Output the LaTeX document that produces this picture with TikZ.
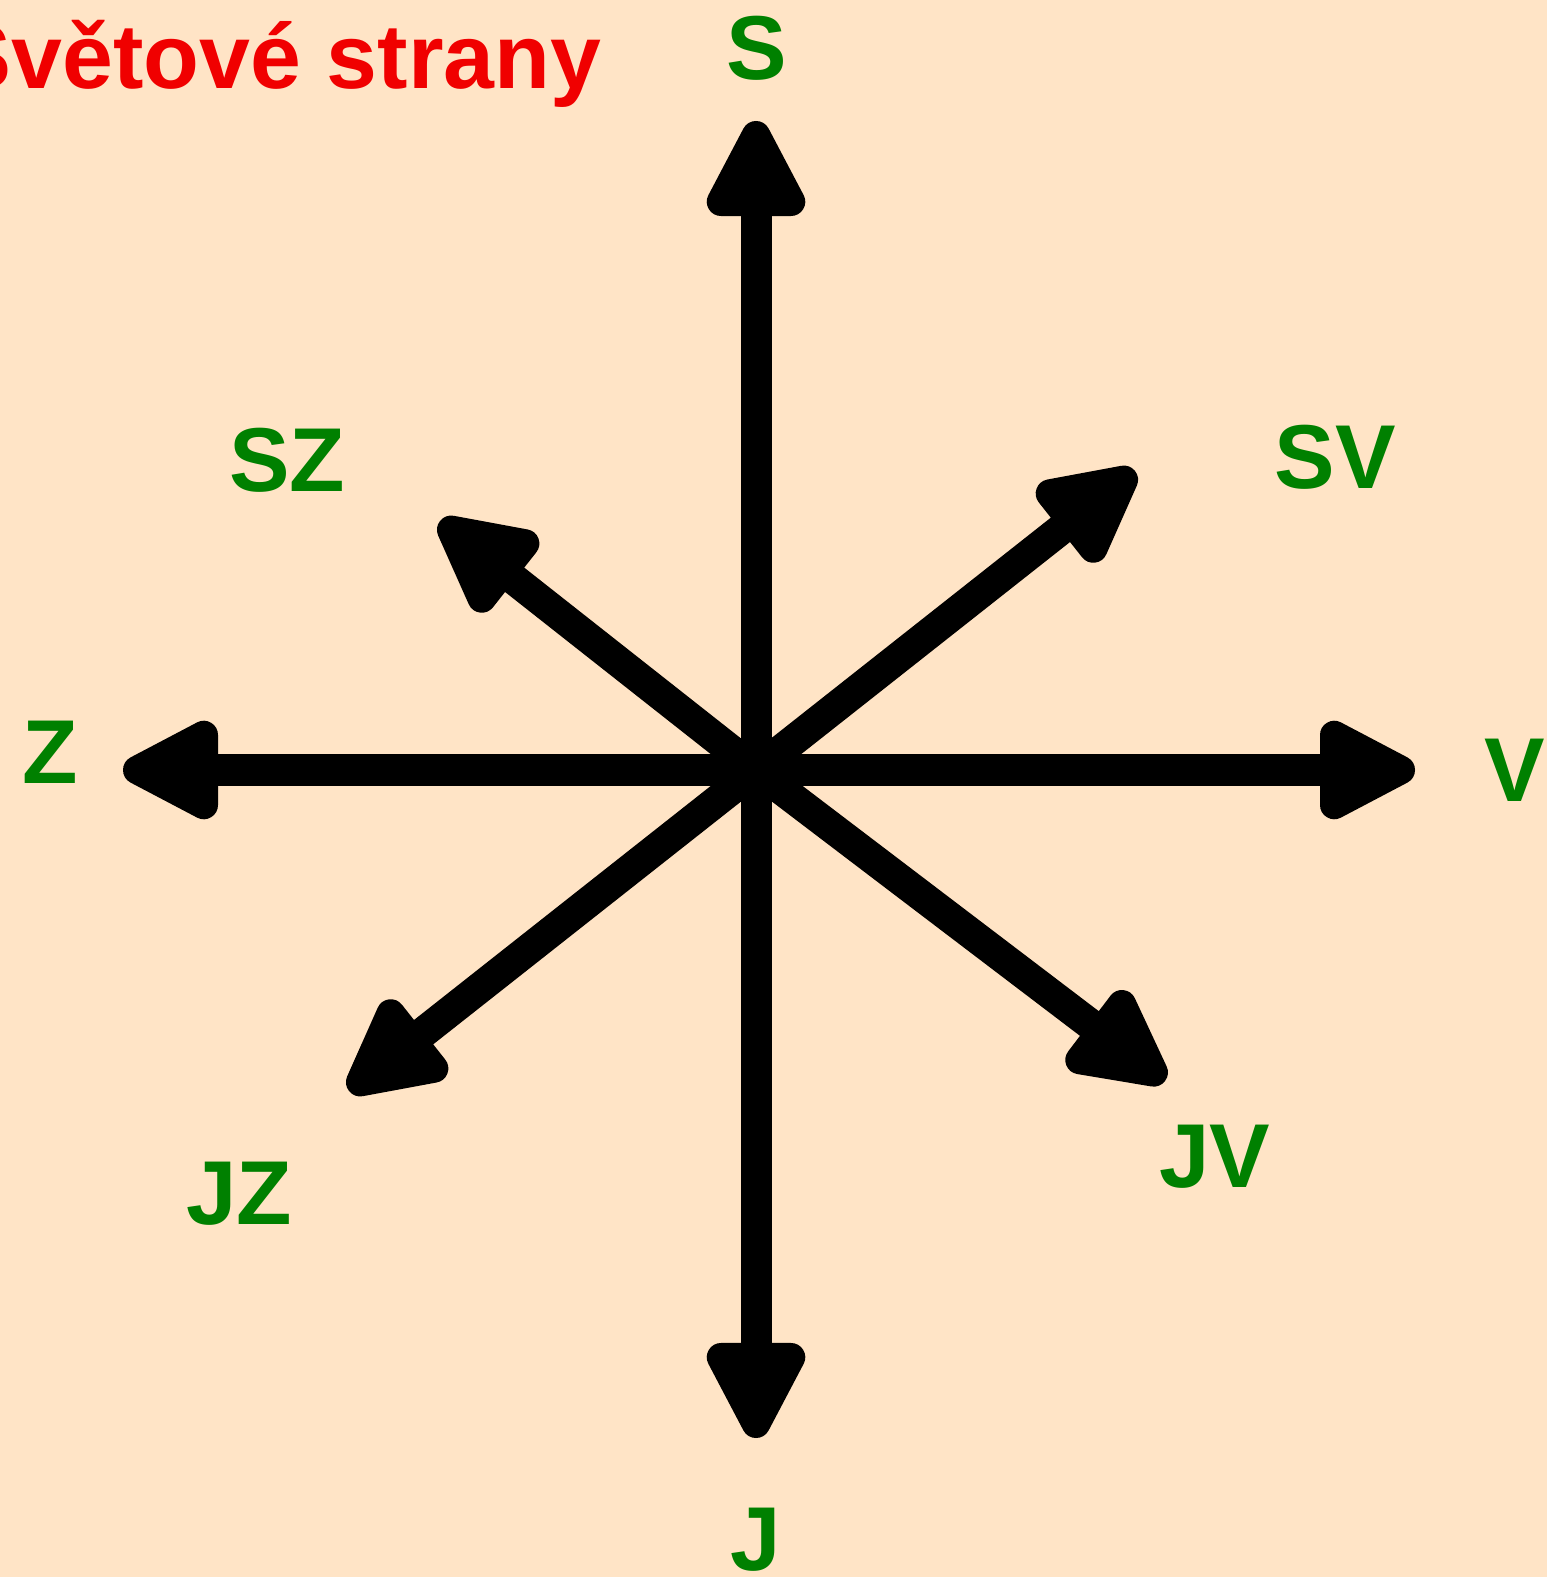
\documentclass[tikz,border=0pt]{standalone}
\usepackage{fontspec}
\setmainfont{Liberation Sans}
\usetikzlibrary{arrows.meta}
\definecolor{bgPeach}{RGB}{255,228,198}
\definecolor{dirGreen}{RGB}{0,128,0}
\definecolor{titleRed}{RGB}{240,0,0}

\begin{document}
\begin{tikzpicture}[x=0.01cm,y=-0.01cm,
  ray/.style={line width=0.31cm,-{Triangle[round,length=1.14cm,width=1.08cm,line width=0.3cm 0 0]}},
  dirlabel/.style={text=dirGreen,font=\bfseries\fontsize{25.8}{30}\selectfont,inner sep=0pt}]
\fill[bgPeach] (0,0) rectangle (1547,1577);
\useasboundingbox (0,0) rectangle (1547,1577);
\node[anchor=base east,inner sep=0pt,text=titleRed,font=\bfseries\fontsize{26}{30}\selectfont] (title) at (602,89) {Světové strany};
% stred ruzice
\coordinate (c) at (756,770);
\coordinate (tS) at (756,121);
\coordinate (tJ) at (756,1438);
\coordinate (tZ) at (123,770);
\coordinate (tV) at (1415,770);
\coordinate (tSV) at (1135,471);
\coordinate (tSZ) at (440,521);
\coordinate (tJZ) at (349,1091);
\coordinate (tJV) at (1165,1081);
\foreach \t in {tS,tJ,tZ,tV,tSV,tSZ,tJZ,tJV}
  \draw[ray] (c) -- (\t);
% popisky
\node[dirlabel] (lS) at (757,48) {S};
\node[dirlabel] (lJ) at (756,1540) {J};
\node[dirlabel] (lZ) at (50,752) {Z};
\node[dirlabel] (lV) at (1515,770) {V};
\node[dirlabel] (lSV) at (1335,457) {SV};
\node[dirlabel] (lSZ) at (287,460) {SZ};
\node[dirlabel] (lJZ) at (239,1194) {JZ};
\node[dirlabel] (lJV) at (1215,1157) {JV};
\end{tikzpicture}
\end{document}
